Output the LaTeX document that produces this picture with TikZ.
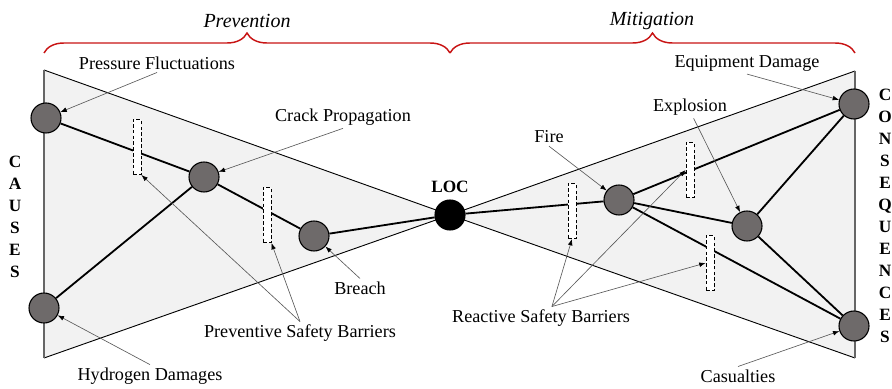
\documentclass[tikz,border=0pt]{standalone}
\usepackage{fontspec}
\setmainfont{Liberation Serif}
\usepackage{xcolor}
\usetikzlibrary{arrows.meta,decorations.pathreplacing}

\definecolor{bowfill}{HTML}{F2F2F2}
\definecolor{evgray}{HTML}{6E6A6A}
\definecolor{bracered}{HTML}{C81414}

\tikzset{
  event/.style={circle, draw=black, line width=0.6pt, fill=evgray, minimum size=16.5pt, inner sep=0pt},
  barrier/.style={draw=black, fill=white, line width=0.5pt, dash pattern=on 2pt off 1.2pt,
                  minimum width=4.4pt, minimum height=30.3pt, inner sep=0pt},
  link/.style={line width=1pt},
  pointer/.style={draw=black!65, line width=0.35pt, -{Latex[length=3.5pt,width=2.6pt,black]}},
  lbl/.style={font=\fontsize{10}{12}\selectfont, inner sep=1.5pt},
  side/.style={font=\bfseries\fontsize{9.5}{12.1}\selectfont, align=center},
  bracepath/.style={draw=bracered, line width=0.8pt, decorate, decoration={brace, amplitude=11pt}}
}

\begin{document}
\begin{tikzpicture}[x=0.55pt,y=-0.55pt]
  \useasboundingbox (0,0) rectangle (892,389);
  % bow tie
  \fill[bowfill] (44,70) -- (450,215) -- (44,358) -- cycle;
  \fill[bowfill] (855,71) -- (450,215) -- (855,358) -- cycle;
  \draw[line width=0.5pt] (44,70) -- (450,215) -- (44,358);
  \draw[line width=0.5pt] (855,71) -- (450,215) -- (855,358);
  \draw[black!60, line width=0.6pt] (44,70) -- (44,358);
  \draw[black!60, line width=0.6pt] (855,71) -- (855,358);

  % braces
  \draw[bracepath] (44,53) -- (450,53);
  \draw[bracepath] (450,53) -- (855,53);
  \node[font=\itshape\fontsize{11}{13}\selectfont] (prev) at (247,21) {Prevention};
  \node[font=\itshape\fontsize{11}{13}\selectfont] (miti) at (652,21) {Mitigation};

  % events
  \node[event] (pf) at (46,118) {};
  \node[event] (cp) at (204,177) {};
  \node[event] (hd) at (44,308) {};
  \node[event] (br) at (314,236) {};
  \node[event, fill=black] (loc) at (450,215) {};
  \node[event] (fire) at (619,200) {};
  \node[event] (exp) at (747,226) {};
  \node[event] (eqd) at (854,104) {};
  \node[event] (cas) at (854,326) {};

  \draw[link] (pf) -- (cp) -- (br) -- (loc) -- (fire) -- (eqd);
  \draw[link] (hd) -- (cp);
  \draw[link] (fire) -- (exp) -- (eqd);
  \draw[link] (fire) -- (cas);
  \draw[link] (exp) -- (cas);

  % barriers
  \node[barrier] (b1) at (137,147) {};
  \node[barrier] (b2) at (267,215) {};
  \node[barrier] (b3) at (572,211) {};
  \node[barrier] (b4) at (690,170) {};
  \node[barrier] (b5) at (710,263) {};

  % labels
  \node[lbl] (pfl) at (157,63) {Pressure Fluctuations};
  \node[lbl] (cpl) at (343,117) {Crack Propagation};
  \node[lbl] (hdl) at (150,376) {Hydrogen Damages};
  \node[lbl] (brl) at (360,288) {Breach};
  \node[lbl] (psb) at (300,333) {Preventive Safety Barriers};
  \node[lbl] (firel) at (549,137) {Fire};
  \node[lbl] (expl) at (690,107) {Explosion};
  \node[lbl] (eqdl) at (747,63) {Equipment Damage};
  \node[lbl] (casl) at (738,376) {Casualties};
  \node[lbl] (rsb) at (541,318) {Reactive Safety Barriers};
  \node[font=\bfseries\fontsize{9.5}{12}\selectfont] (locl) at (450,187) {LOC};

  \node[side] (causes) at (15,217) {C\\A\\U\\S\\E\\S};
  \node[side] (conseq) at (885,216) {C\\O\\N\\S\\E\\Q\\U\\E\\N\\C\\E\\S};

  % pointers
  \draw[pointer] (pfl.south) -- (pf);
  \draw[pointer] (cpl.south) -- (cp);
  \draw[pointer] (hdl.north) -- (hd);
  \draw[pointer] (brl.north) -- (br);
  \draw[pointer] (psb.north) -- (b1.south east);
  \draw[pointer] (psb.north) -- (b2.south east);
  \draw[pointer] (firel.south) -- (fire);
  \draw[pointer] ([xshift=2pt]expl.south) -- (exp);
  \draw[pointer] (eqdl.south) -- (eqd);
  \draw[pointer] (casl.north) -- (cas);
  \draw[pointer] ([xshift=6pt]rsb.north) -- (b3.south);
  \draw[pointer] ([xshift=6pt]rsb.north) -- (b4.west);
  \draw[pointer] ([xshift=6pt]rsb.north) -- (b5.west);
\end{tikzpicture}
\end{document}
